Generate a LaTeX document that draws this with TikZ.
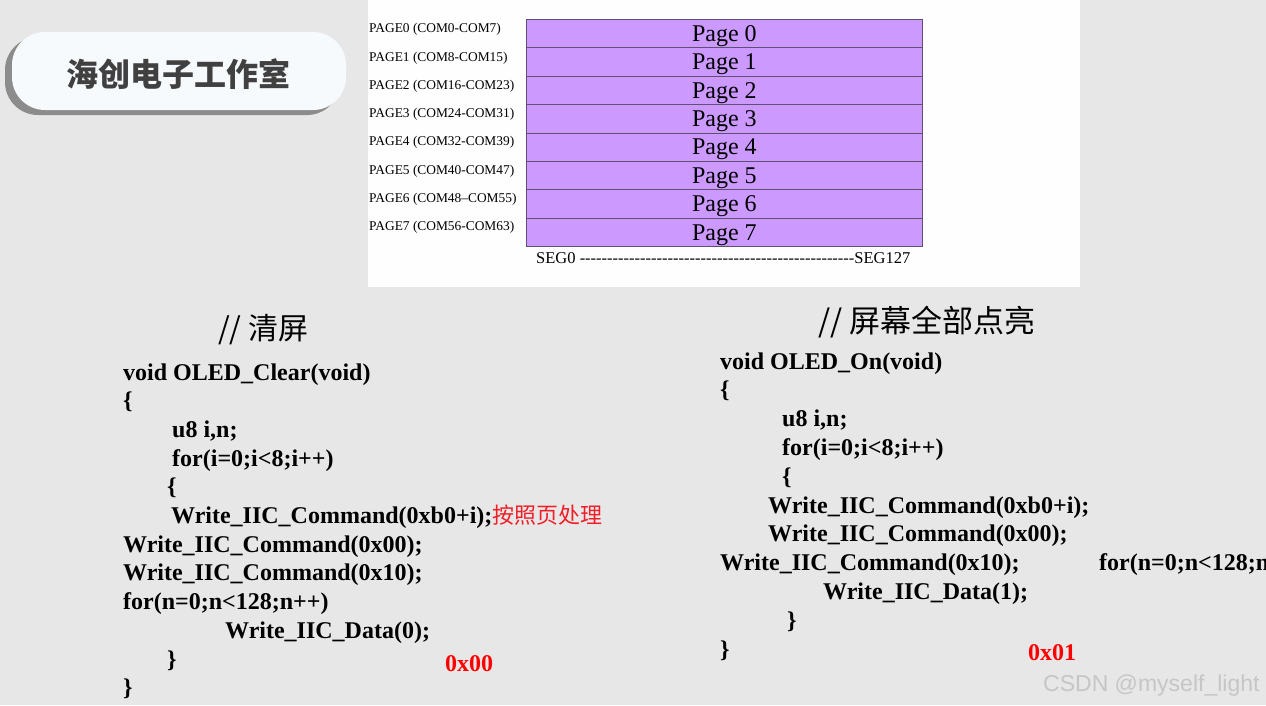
\documentclass[tikz,border=0pt]{standalone}
\usepackage{fontspec}
\setmainfont{Liberation Serif}
\newfontfamily\cjk{Noto Sans CJK SC}
\newfontfamily\wmfont{Liberation Sans}
\ExplSyntaxOn
\NewDocumentCommand\myrep{mm}{\prg_replicate:nn{#1}{#2}}
\ExplSyntaxOff
\definecolor{bg}{RGB}{231,231,231}
\definecolor{panel}{RGB}{254,254,254}
\definecolor{purp}{RGB}{204,153,255}
\definecolor{rowline}{RGB}{95,80,115}
\definecolor{pillfill}{RGB}{247,250,253}
\definecolor{pillshadow}{RGB}{140,140,140}
\definecolor{titletext}{RGB}{64,64,64}
\definecolor{redtext}{RGB}{255,0,0}
\definecolor{redcjk}{RGB}{240,30,40}
\definecolor{wm}{RGB}{198,198,198}
\begin{document}
\begin{tikzpicture}[x=1pt,y=-1pt,
  code/.style={anchor=base west, inner sep=0pt, font=\fontsize{24}{28}\selectfont\bfseries},
  redcode/.style={code, text=redtext},
  pagelbl/.style={anchor=west, inner sep=0pt, font=\fontsize{13.4}{15}\selectfont},
  pagerow/.style={draw=rowline, fill=purp, line width=0.8pt, minimum width=396pt, minimum height=28.4pt, inner sep=0pt, anchor=north west},
  pagetext/.style={anchor=base, inner sep=0pt, font=\fontsize{24}{26}\selectfont},
  cjktitle/.style={anchor=base west, inner sep=0pt, font=\cjk\fontsize{#1}{#1}\selectfont},
]
\useasboundingbox (0,0) rectangle (1266,705);
\fill[bg] (0,0) rectangle (1266,705);
% white panel
\fill[panel] (368,0) rectangle (1080,287);
% title pill
\fill[pillshadow, rounded corners=33pt] (5,37) rectangle (340,115);
\fill[pillfill, rounded corners=33pt] (12,32) rectangle (346,110);
\node[anchor=base, inner sep=0pt, font=\cjk\bfseries\fontsize{32}{34}\selectfont, text=titletext] (title) at (178,86) {海创电子工作室};
% page table
\foreach \k in {0,...,7} {
  \node[pagerow] (p\k) at (526,{19+28.4*\k}) {};
  \node[pagetext] (pt\k) at ([yshift=-7.6pt]p\k.center) {Page \k};
}
\foreach \k/\a/\b in {0/0/7,1/8/15,2/16/23,3/24/31,4/32/39,5/40/47,7/56/63} {
  \node[pagelbl] (lbl\k) at (369,{29.5+28.3*\k}) {PAGE\k\ (COM\a-COM\b)};
}
\node[pagelbl] (lbl6) at (369,{29.5+28.3*6}) {PAGE6 (COM48–COM55)};
\node[anchor=base west, inner sep=0pt, font=\fontsize{16.5}{18}\selectfont] (seg) at (536,263) {SEG0 \myrep{50}{-{}}SEG127};
% left code
\node[cjktitle=30] (ltitle) at (218,339) {// 清屏};
\node[code] (l1) at (123,380) {void OLED\_Clear(void)};
\node[code] (l2) at (123,408.7) {\{};
\node[code] (l3) at (172,437.4) {u8 i,n;};
\node[code] (l4) at (172,466.1) {for(i=0;i<8;i++)};
\node[code] (l5) at (167,494.8) {\{};
\node[code] (l6) at (171,523.5) {Write\_IIC\_Command(0xb0+i);{\cjk\mdseries\fontsize{22}{24}\selectfont\color{redcjk}按照页处理}};
\node[code] (l7) at (123,552.2) {Write\_IIC\_Command(0x00);};
\node[code] (l8) at (123,580.9) {Write\_IIC\_Command(0x10);};
\node[code] (l9) at (123,609.6) {for(n=0;n<128;n++)};
\node[code] (l10) at (225,638.3) {Write\_IIC\_Data(0);};
\node[code] (l11) at (167,667) {\}};
\node[redcode] (lred) at (445,671) {0x00};
\node[code] (l12) at (123,695.7) {\}};
% right code
\node[cjktitle=31] (rtitle) at (818,332) {// 屏幕全部点亮};
\node[code] (r1) at (720,369) {void OLED\_On(void)};
\node[code] (r2) at (720,397.8) {\{};
\node[code] (r3) at (782,426.6) {u8 i,n;};
\node[code] (r4) at (782,455.4) {for(i=0;i<8;i++)};
\node[code] (r5) at (782,484.2) {\{};
\node[code] (r6) at (768,513) {Write\_IIC\_Command(0xb0+i);};
\node[code] (r7) at (768,541.8) {Write\_IIC\_Command(0x00);};
\node[code] (r8) at (720,570.6) {Write\_IIC\_Command(0x10);};
\node[code] (r8b) at (1099,570.6) {for(n=0;n<128;n};
\node[code] (r9) at (823,599.4) {Write\_IIC\_Data(1);};
\node[code] (r10) at (787,628.2) {\}};
\node[code] (r11) at (720,657) {\}};
\node[redcode] (rred) at (1028,660) {0x01};
% watermark
\node[anchor=base west, inner sep=0pt, font=\wmfont\fontsize{23}{25}\selectfont, text=wm] (wm) at (1043,691) {CSDN @myself\_light};
\end{tikzpicture}
\end{document}
